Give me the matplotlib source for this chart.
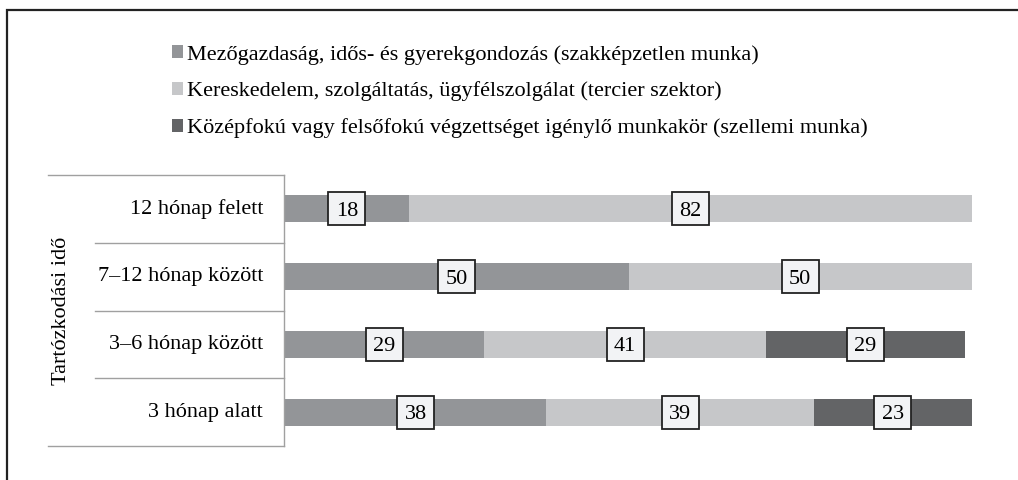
import matplotlib

matplotlib.use("Agg")
import matplotlib.pyplot as plt
from matplotlib.lines import Line2D
from matplotlib.patches import Patch, Rectangle
from matplotlib.transforms import ScaledTranslation

plt.rcParams["font.family"] = ["Liberation Serif", "DejaVu Serif"]

# --- data (bottom row first) ---
categories = ["3 hónap alatt", "3–6 hónap között", "7–12 hónap között", "12 hónap felett"]
unskilled = [38, 29, 50, 18]
tertiary = [39, 41, 50, 82]
intellectual = [23, 29, 0, 0]
series_names = [
    "Mezőgazdaság, idős- és gyerekgondozás (szakképzetlen munka)",
    "Kereskedelem, szolgáltatás, ügyfélszolgálat (tercier szektor)",
    "Középfokú vagy felsőfokú végzettséget igénylő munkakör (szellemi munka)",
]
axis_title = "Tartózkodási idő"

colors = ["#939598", "#c6c7c9", "#636466"]
FS = 16

W, H = 1018, 480
fig = plt.figure(figsize=(W / 100, H / 100), dpi=100)

# axes placed in pixel terms
x0, x1 = 285, 972
y_top, y_bot = 175, 446
ax = fig.add_axes([x0 / W, 1 - y_bot / H, (x1 - x0) / W, (y_bot - y_top) / H])
ax.set_xlim(0, 100)
ax.set_ylim(-0.5, len(categories) - 0.5)
for s in ax.spines.values():
    s.set_visible(False)
ax.set_xticks([])
ax.set_yticks([])

ypos = list(range(len(categories)))
left = [0] * len(categories)
for vals, col in zip([unskilled, tertiary, intellectual], colors):
    ax.barh(ypos, vals, left=left, height=0.4, color=col, edgecolor="none")
    for y, v, l in zip(ypos, vals, left):
        if v > 0:
            cx = l + v / 2
            # fixed-size label box (37 x 33 px) centred on the segment
            tr = fig.dpi_scale_trans + ScaledTranslation(cx, y, ax.transData)
            ax.add_patch(Rectangle((-0.185, -0.165), 0.37, 0.33, transform=tr,
                                   fc="#f2f3f5", ec="#222222", lw=1.3, zorder=3))
            ax.text(cx, y, f"{v}", ha="center", va="center_baseline", fontsize=FS, zorder=4)
    left = [a + b for a, b in zip(left, vals)]

# table-like left area
def ax_x(px):
    return (px - x0) / (x1 - x0)

line_kw = dict(transform=ax.transAxes, clip_on=False, color="#a0a0a0", lw=1.0)
ax.add_line(Line2D([ax_x(48), ax_x(284)], [1, 1], **line_kw))
ax.add_line(Line2D([ax_x(48), ax_x(284)], [0, 0], **line_kw))
n = len(categories)
for k in range(1, n):
    ax.add_line(Line2D([ax_x(95), ax_x(284)], [k / n, k / n], **line_kw))
ax.add_line(Line2D([ax_x(284), ax_x(284)], [0, 1], **line_kw))

for y, cat in zip(ypos, categories):
    ax.text(ax_x(263), (y + 0.5) / n, cat, transform=ax.transAxes,
            ha="right", va="center", fontsize=FS)
ax.text(ax_x(61), 0.5, axis_title, transform=ax.transAxes, rotation=90,
        ha="center", va="center", fontsize=FS)

# legend
handles = [Patch(facecolor=c, edgecolor="none") for c in colors]
fig.legend(handles, series_names, loc="upper left", bbox_to_anchor=(163 / W, 1 - 36 / H),
           frameon=False, fontsize=FS, handlelength=0.5, handleheight=0.5,
           handletextpad=0.2, labelspacing=0.76, borderaxespad=0)

# outer border (right and bottom edges fall outside the image)
fig.add_artist(plt.Rectangle((7 / W, -0.05), 1.1, 1 - 10 / H + 0.05, transform=fig.transFigure,
                             fill=False, ec="#222222", lw=1.6))

fig.savefig("out.png", dpi=100)
